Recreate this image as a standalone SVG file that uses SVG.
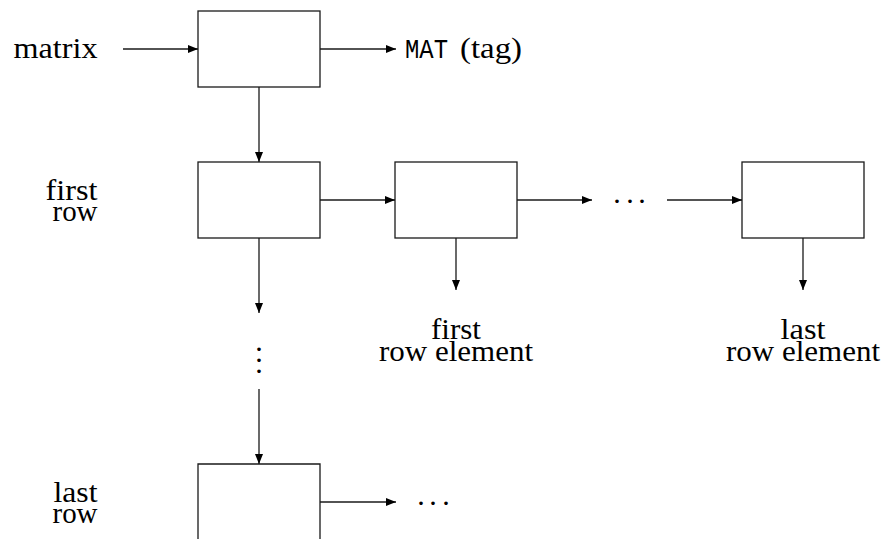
<svg xmlns="http://www.w3.org/2000/svg" width="882" height="539" viewBox="0 0 882 539">
  <style>
    .box { fill: #fff; stroke: #1a1a1a; stroke-width: 1.3; }
    .wire { fill: none; stroke: #1a1a1a; stroke-width: 1.3; marker-end: url(#tip); }
    .lbl { font-size: 29px; fill: #000; }
    .tt { font-size: 27px; fill: #000; }
    .dots { font-size: 30px; fill: #000; text-anchor: middle; }
  </style>
  <defs>
    <marker id="tip" viewBox="0 0 10 8" refX="10" refY="4" markerWidth="10" markerHeight="8" markerUnits="userSpaceOnUse" orient="auto">
      <path d="M0,0 L10,4 L0,8 Z" fill="#000"/>
    </marker>
  </defs>
  <rect width="882" height="539" fill="#fff"/>

  <!-- list cells -->
  <g id="matrix-cell"><rect class="box" x="198" y="11" width="122" height="76"/></g>
  <g id="first-row-cell"><rect class="box" x="198" y="162" width="122" height="76"/></g>
  <g id="first-elem-cell"><rect class="box" x="395" y="162" width="122" height="76"/></g>
  <g id="last-elem-cell"><rect class="box" x="742" y="162" width="122" height="76"/></g>
  <g id="last-row-cell"><path class="box" d="M198,545 V464 H320 V545"/></g>

  <!-- connectors -->
  <g id="connectors">
    <line class="wire" x1="123" y1="49" x2="198" y2="49"/>
    <line class="wire" x1="320" y1="49" x2="396" y2="49"/>
    <line class="wire" x1="259" y1="87" x2="259" y2="162"/>
    <line class="wire" x1="320" y1="200" x2="395" y2="200"/>
    <line class="wire" x1="517" y1="200" x2="592" y2="200"/>
    <line class="wire" x1="667" y1="200" x2="742" y2="200"/>
    <line class="wire" x1="259" y1="238" x2="259" y2="313"/>
    <line class="wire" x1="456" y1="238" x2="456" y2="290"/>
    <line class="wire" x1="803" y1="238" x2="803" y2="290"/>
    <line class="wire" x1="259" y1="389" x2="259" y2="464"/>
    <line class="wire" x1="320" y1="502" x2="396" y2="502"/>
  </g>

  <!-- labels -->
  <g id="labels" font-family="Liberation Serif, DejaVu Serif, Times New Roman, Times, serif">
    <text class="lbl" x="13.5" y="58" textLength="84" lengthAdjust="spacingAndGlyphs">matrix</text>
    <text class="tt" x="405" y="58" font-family="Liberation Mono, DejaVu Sans Mono, Courier New, monospace" textLength="43" lengthAdjust="spacingAndGlyphs">MAT</text>
    <text class="lbl" x="460" y="58" textLength="62" lengthAdjust="spacingAndGlyphs">(tag)</text>

    <text class="lbl" x="97.5" y="200" text-anchor="end" textLength="52" lengthAdjust="spacingAndGlyphs">first</text>
    <text class="lbl" x="97.5" y="221" text-anchor="end" textLength="45" lengthAdjust="spacingAndGlyphs">row</text>

    <text class="lbl" x="97.5" y="502" text-anchor="end" textLength="44" lengthAdjust="spacingAndGlyphs">last</text>
    <text class="lbl" x="97.5" y="523" text-anchor="end" textLength="45" lengthAdjust="spacingAndGlyphs">row</text>

    <text class="lbl" x="456" y="339" text-anchor="middle" textLength="50" lengthAdjust="spacingAndGlyphs">first</text>
    <text class="lbl" x="456" y="361" text-anchor="middle" textLength="154" lengthAdjust="spacingAndGlyphs">row element</text>

    <text class="lbl" x="803" y="339" text-anchor="middle" textLength="45" lengthAdjust="spacingAndGlyphs">last</text>
    <text class="lbl" x="803" y="361" text-anchor="middle" textLength="154" lengthAdjust="spacingAndGlyphs">row element</text>

    <text class="dots" x="617 630 642" y="211">···</text>
    <text class="dots" x="421 433 446" y="513">···</text>
    <text class="dots" x="259 259 259" y="359 370 381">···</text>
  </g>
</svg>
